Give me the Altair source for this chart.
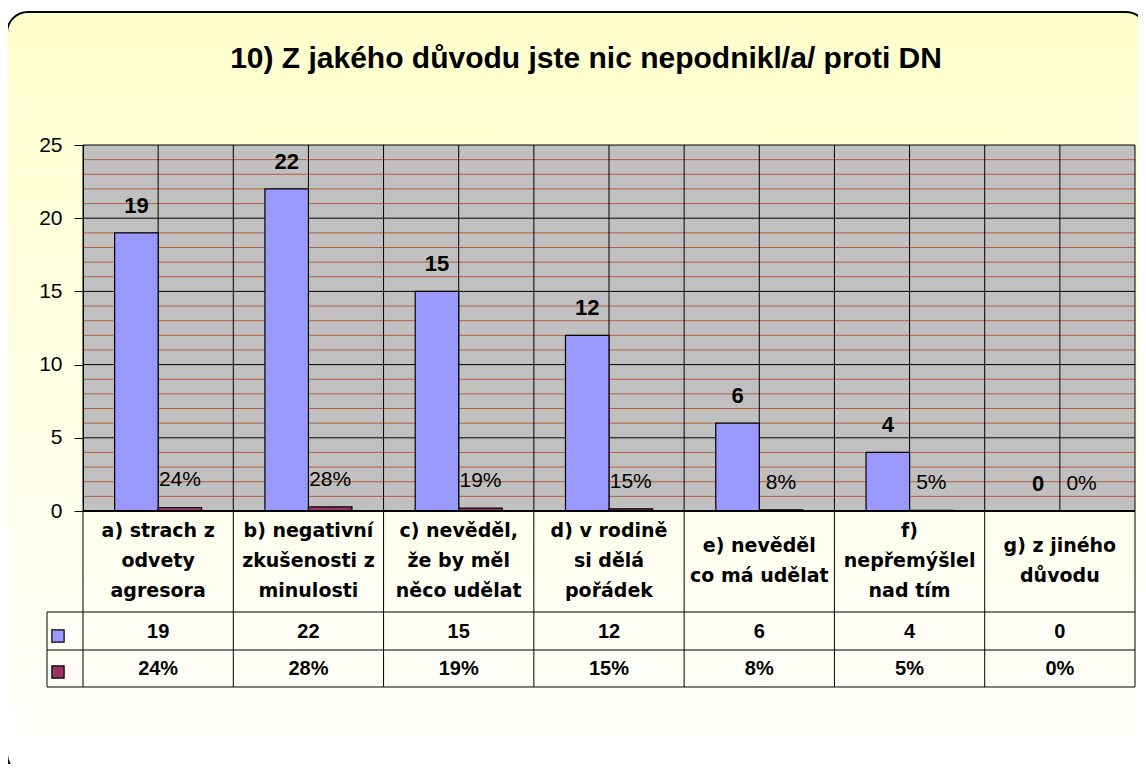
import altair as alt
import pandas as pd

# ---- data ----
categories = [
    "a) strach z\nodvety\nagresora",
    "b) negativní\nzkušenosti z\nminulosti",
    "c) nevěděl,\nže by měl\nněco udělat",
    "d) v rodině\nsi dělá\npořádek",
    "e) nevěděl\nco má udělat",
    "f)\nnepřemýšlel\nnad tím",
    "g) z jiného\ndůvodu",
]
counts = [19, 22, 15, 12, 6, 4, 0]
shares = [0.24, 0.28, 0.19, 0.15, 0.08, 0.05, 0.00]
series = ["počet", "podíl"]
series_colors = ["#9999FF", "#993366"]
y_ticks = [0, 5, 10, 15, 20, 25]
y_minor = [v for v in range(1, 25) if v % 5 != 0]
title_text = "10) Z jakého důvodu jste nic nepodnikl/a/ proti DN"

# ---- tables ----
long_df = pd.DataFrame(
    {"cat": categories * 2,
     "series": [series[0]] * len(categories) + [series[1]] * len(categories),
     "value": counts + shares}
)
cat_df = pd.DataFrame({"cat": categories, "count": counts, "share": shares})
major_df = pd.DataFrame({"g": y_ticks[1:]})
minor_df = pd.DataFrame({"g": y_minor})
one = pd.DataFrame({"k": [1]})
legend_df = pd.DataFrame({"series": series, "color": series_colors})

W, H = 1052, 366
TABLE_BOTTOM = 542
ROW1, ROW2 = 467, 505
LEFT_COL = -36
FONT = "Liberation Sans"

xscale = alt.Scale(domain=categories, paddingInner=0, paddingOuter=0)
yscale = alt.Scale(domain=[0, 25], nice=False, zero=True)
offscale = alt.Scale(domain=series, paddingInner=0, paddingOuter=0.727)
yaxis = alt.Axis(values=y_ticks, grid=False, title=None, tickSize=9,
                 labelPadding=12, labelFontSize=21, labelFont=FONT,
                 labelColor="black", tickColor="black", domainColor="black",
                 domainWidth=1, tickWidth=1, zindex=1)


def X(band=0.5):
    return alt.X("cat:N", scale=xscale, sort=categories, axis=None, bandPosition=band)


def Y(field):
    return alt.Y(field, scale=yscale, axis=yaxis)


# background frame with gradient
frame = alt.Chart(one).mark_rect(
    cornerRadius=21, stroke="black", strokeWidth=2,
    fill=alt.LinearGradient(
        gradient="linear",
        stops=[alt.GradientStop(color="#FFFFCC", offset=0),
               alt.GradientStop(color="#FFFFFF", offset=1)],
        x1=0, x2=0, y1=0, y2=1),
).encode(x=alt.value(-76), x2=alt.value(1064), y=alt.value(-133), y2=alt.value(630))

plot_bg = alt.Chart(one).mark_rect(fill="#C0C0C0").encode(
    x=alt.value(0), x2=alt.value(W), y=alt.value(0), y2=alt.value(H))

minor = alt.Chart(minor_df).mark_rule(color="#B0603E", strokeWidth=1).encode(
    y=Y("g:Q"), x=alt.value(0), x2=alt.value(W))
major = alt.Chart(major_df).mark_rule(color="black", strokeWidth=1).encode(
    y=Y("g:Q"), x=alt.value(0), x2=alt.value(W))

center_lines = alt.Chart(cat_df).mark_rule(color="black", strokeWidth=1).encode(
    x=X(0.5), y=alt.value(0), y2=alt.value(H))
bound_lines = alt.Chart(cat_df).mark_rule(color="black", strokeWidth=1).encode(
    x=X(0), y=alt.value(0), y2=alt.value(TABLE_BOTTOM))
right_line = alt.Chart(one).mark_rule(color="black", strokeWidth=1).encode(
    x=alt.value(W), y=alt.value(0), y2=alt.value(TABLE_BOTTOM))

hlines = [
    alt.Chart(one).mark_rule(color="black", strokeWidth=1).encode(
        x=alt.value(LEFT_COL), x2=alt.value(W), y=alt.value(yy), y2=alt.value(yy))
    for yy in (ROW1, ROW2, TABLE_BOTTOM)
]
left_border = alt.Chart(one).mark_rule(color="black", strokeWidth=1).encode(
    x=alt.value(LEFT_COL), y=alt.value(ROW1), y2=alt.value(TABLE_BOTTOM))

bars = alt.Chart(long_df).mark_bar(stroke="black", strokeWidth=1.2).encode(
    x=X(),
    xOffset=alt.XOffset("series:N", scale=offscale, sort=series),
    y=Y("value:Q"),
    color=alt.Color("series:N", scale=alt.Scale(domain=series, range=series_colors),
                    legend=None),
)

bottom_axis = alt.Chart(one).mark_rule(color="black", strokeWidth=2).encode(
    x=alt.value(0), x2=alt.value(W), y=alt.value(H), y2=alt.value(H))

count_labels = alt.Chart(long_df).transform_filter(
    alt.datum.series == series[0]
).mark_text(font=FONT, fontSize=22, fontWeight="bold", baseline="middle", dy=-27,
            color="black").encode(
    x=X(), xOffset=alt.XOffset("series:N", scale=offscale, sort=series),
    y=Y("value:Q"),
    text=alt.Text("value:Q", format="d"))

share_labels = alt.Chart(long_df).transform_filter(
    alt.datum.series == series[1]
).mark_text(font=FONT, fontSize=21, baseline="middle", dy=-27, color="black").encode(
    x=X(), xOffset=alt.XOffset("series:N", scale=offscale, sort=series),
    y=Y("value:Q"),
    text=alt.Text("value:Q", format=".0%"))

header = alt.Chart(cat_df).transform_calculate(
    nl="length(split(datum.cat, '\\n'))",
    ty="416 - (datum.nl - 1) * 15",
).mark_text(
    font="DejaVu Sans", fontSize=19, fontWeight="bold", lineBreak="\n",
    lineHeight=30, baseline="middle", color="black").encode(
    x=X(), y=alt.Y("ty:Q", scale=None, axis=None), text="cat:N")

row_counts = alt.Chart(cat_df).mark_text(
    font=FONT, fontSize=20, fontWeight="bold", baseline="middle", color="black").encode(
    x=X(), y=alt.value(487), text=alt.Text("count:Q", format="d"))
row_shares = alt.Chart(cat_df).mark_text(
    font=FONT, fontSize=20, fontWeight="bold", baseline="middle", color="black").encode(
    x=X(), y=alt.value(524), text=alt.Text("share:Q", format=".0%"))

leg1 = alt.Chart(legend_df).transform_filter(alt.datum.series == series[0]).mark_square(
    size=150, stroke="black", strokeWidth=1.2, opacity=1).encode(
    x=alt.value(-25), y=alt.value(491), fill=alt.Fill("color:N", scale=None))
leg2 = alt.Chart(legend_df).transform_filter(alt.datum.series == series[1]).mark_square(
    size=150, stroke="black", strokeWidth=1.2, opacity=1).encode(
    x=alt.value(-25), y=alt.value(527), fill=alt.Fill("color:N", scale=None))

title = alt.Chart(one).mark_text(
    text=title_text, font=FONT, fontSize=30, fontWeight="bold", color="black",
    baseline="alphabetic", align="center").encode(x=alt.value(503), y=alt.value(-77))

chart = alt.layer(
    frame, plot_bg, minor, major, center_lines, bound_lines, right_line,
    *hlines, left_border, bars, bottom_axis, count_labels, share_labels,
    header, row_counts, row_shares, leg1, leg2, title,
).properties(
    width=W, height=H,
    autosize=alt.AutoSizeParams(type="none"),
    padding={"left": 75, "top": 137, "right": 3, "bottom": 253},
).configure_view(stroke=None, fill=None).configure(background="white")

chart.save("out.html", embed_options={"renderer": "svg", "actions": False})
